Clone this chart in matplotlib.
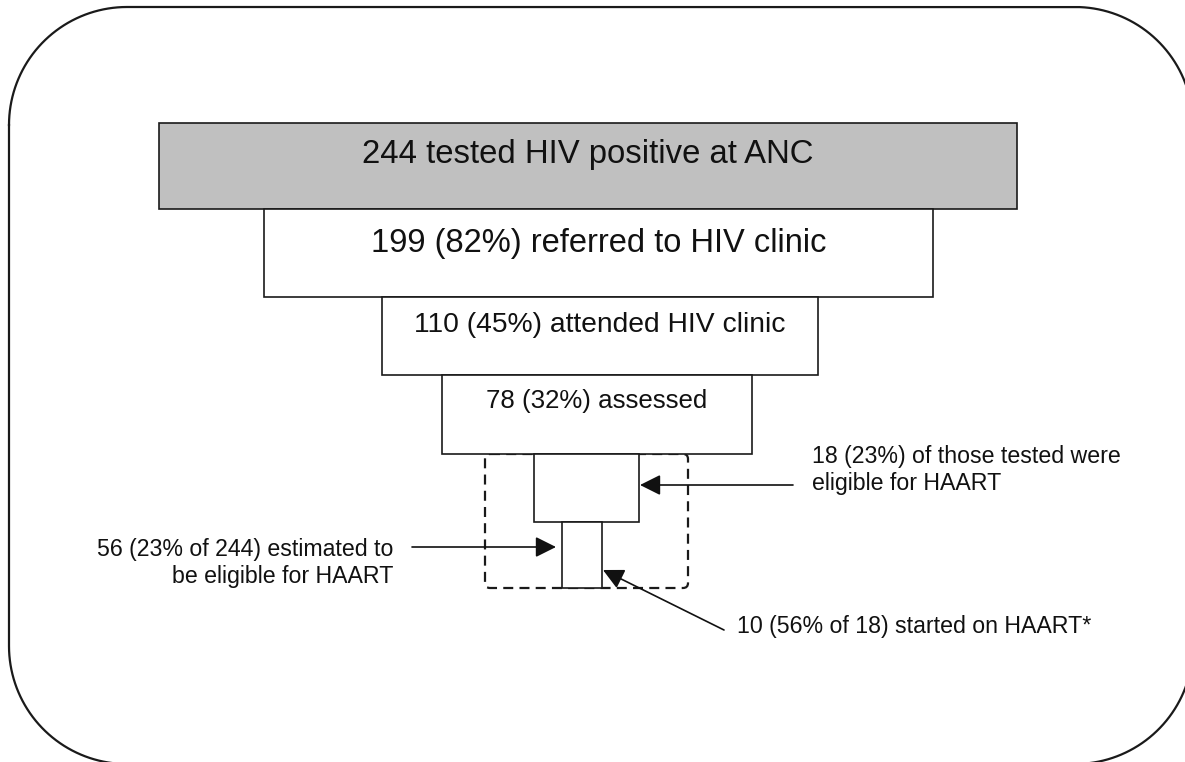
import numpy as np
import matplotlib.pyplot as plt
from matplotlib.patches import Rectangle, FancyBboxPatch

plt.rcParams['font.family'] = ['Liberation Sans', 'DejaVu Sans']

# cascade data
total = 244
stage_counts = [244, 199, 110, 78]
stage_text = ["tested HIV positive at ANC", "referred to HIV clinic",
              "attended HIV clinic", "assessed"]
eligible_tested = 18
eligible_est = 56
started = 10

# layout (pixels, y down)
box_x0 = [159, 264, 382, 442]
box_x1 = [1017, 933, 818, 752]
box_y0 = [123, 209, 297, 375]
box_y1 = [209, 297, 375, 454]
box_fill = ['#c0c0c0', 'white', 'white', 'white']
text_base = [163, 252, 332, 408]
text_size = [23.7, 23.5, 20.3, 18.6]

fig = plt.figure(figsize=(11.85, 7.62), dpi=100)
ax = fig.add_axes([0, 0, 1, 1])
ax.set_xlim(0, 1185)
ax.set_ylim(762, 0)
ax.axis('off')

# rounded outer frame
fx0, fy0, fx1, fy1, r = 9, 7, 1193, 764, 118
xs, ys = [], []
for cx, cy, a0 in [(fx0 + r, fy0 + r, np.pi), (fx1 - r, fy0 + r, 1.5 * np.pi),
                   (fx1 - r, fy1 - r, 0), (fx0 + r, fy1 - r, 0.5 * np.pi)]:
    t = np.linspace(a0, a0 + np.pi / 2, 40)
    xs += list(cx + r * np.cos(t))
    ys += list(cy + r * np.sin(t))
xs.append(xs[0])
ys.append(ys[0])
ax.plot(xs, ys, color='#1a1a1a', lw=1.6, clip_on=True)

# dashed box round the eligible part
ax.add_patch(FancyBboxPatch((485, 454), 203, 134, boxstyle="round,pad=0,rounding_size=5",
                            fill=False, ec='#1a1a1a', lw=1.6, ls=(0, (4.5, 2.8)), zorder=1))

for i, n in enumerate(stage_counts):
    ax.add_patch(Rectangle((box_x0[i], box_y0[i]), box_x1[i] - box_x0[i], box_y1[i] - box_y0[i],
                           fc=box_fill[i], ec='#1a1a1a', lw=1.2, zorder=2))
    if i == 0:
        label = f"{n} {stage_text[i]}"
    else:
        label = f"{n} ({round(100 * n / total)}%) {stage_text[i]}"
    ax.text((box_x0[i] + box_x1[i]) / 2, text_base[i], label, ha='center', va='baseline',
            fontsize=text_size[i], color='#111111', zorder=3)

# eligible (tested) and started boxes
ax.add_patch(Rectangle((534, 454), 105, 68, fc='white', ec='#1a1a1a', lw=1.2, zorder=2))
ax.add_patch(Rectangle((562, 522), 40, 66, fc='white', ec='#1a1a1a', lw=1.2, zorder=2))

arrow = dict(arrowstyle='-|>,head_length=0.9,head_width=0.45', color='#111111', lw=1.2,
             shrinkA=0, shrinkB=0, mutation_scale=14)

ax.annotate('', xy=(640, 485), xytext=(793, 485), arrowprops=arrow, zorder=4)
ax.text(812, 470, f"{eligible_tested} ({round(100 * eligible_tested / stage_counts[3])}%) of those tested were\neligible for HAART",
        ha='left', va='center', fontsize=16.7, color='#111111', linespacing=1.2)

ax.annotate('', xy=(556, 547), xytext=(412, 547), arrowprops=arrow, zorder=4)
ax.text(393, 563, f"{eligible_est} ({round(100 * eligible_est / total)}% of {total}) estimated to\nbe eligible for HAART",
        ha='right', va='center', fontsize=16.7, color='#111111', linespacing=1.2)

ax.annotate('', xy=(603, 570), xytext=(724, 630), arrowprops=arrow, zorder=4)
ax.text(737, 627, f"{started} ({round(100 * started / eligible_tested)}% of {eligible_tested}) started on HAART*",
        ha='left', va='center', fontsize=16.7, color='#111111')

fig.savefig('out.png', dpi=100)
